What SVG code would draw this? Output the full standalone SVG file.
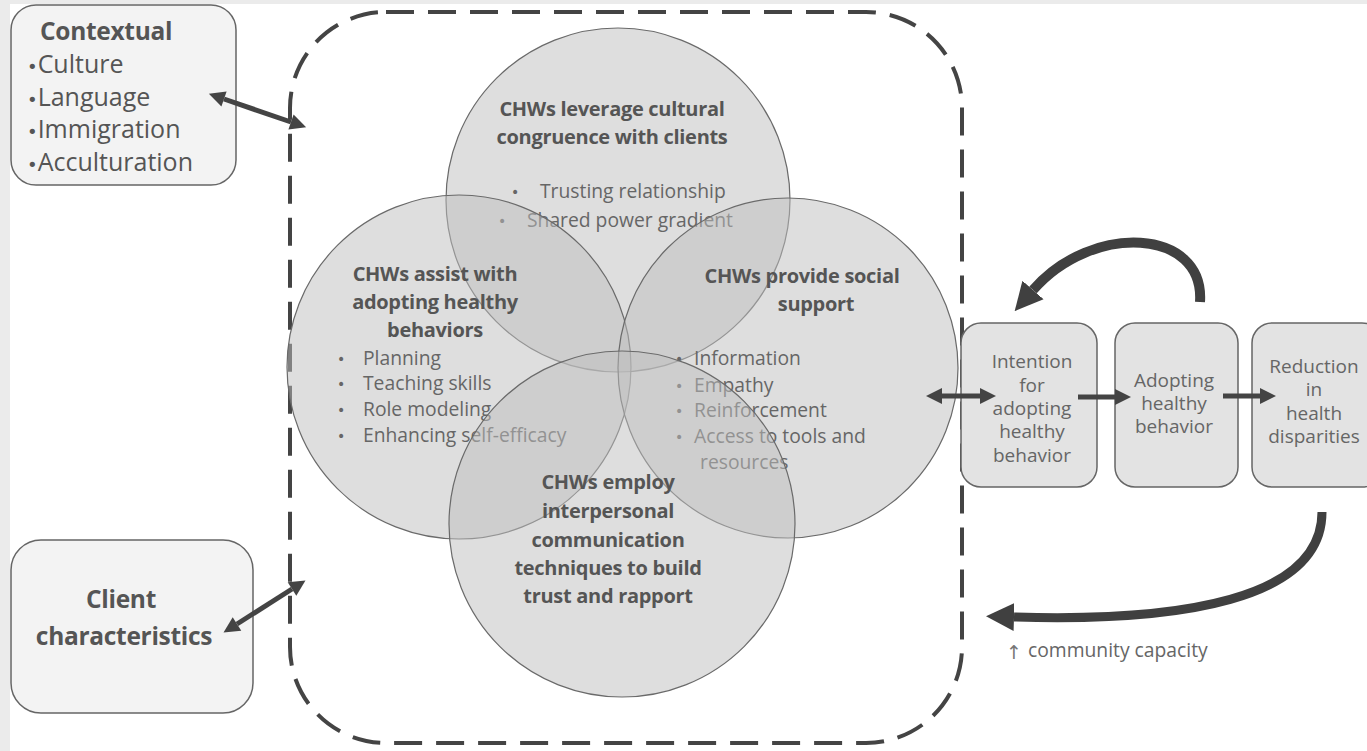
<svg xmlns="http://www.w3.org/2000/svg" width="1367" height="751" viewBox="0 0 1367 751">
<defs>
<style>
.bg{fill:#ffffff}
.strip{fill:#ebebeb}
.box{fill:#f3f3f3;stroke:#666;stroke-width:1.5}
.rbox{fill:#e3e3e3;stroke:#666;stroke-width:1.5}
.circ{fill:#bdbdbd;fill-opacity:0.5;stroke:#6a6a6a;stroke-width:1.2}
.dash{fill:none;stroke:#444;stroke-width:4;stroke-dasharray:28 14}
.h{font-family:"Open Sans","Noto Sans",sans-serif;font-weight:700;font-size:20px;fill:#555;text-anchor:middle;letter-spacing:-0.3px}
.t{font-family:"Open Sans","Noto Sans",sans-serif;font-weight:400;font-size:19.3px;fill:#666}
.b{font-family:"DejaVu Sans",sans-serif;font-size:14px;fill:#666}
.cb{font-family:"DejaVu Sans",sans-serif;font-size:18px}
.ctx{font-family:"Open Sans","Noto Sans",sans-serif;font-size:25px;fill:#555}
.ctxh{font-family:"Open Sans","Noto Sans",sans-serif;font-weight:700;font-size:24.5px;fill:#555;letter-spacing:-0.3px}
.bt{font-family:"Open Sans","Noto Sans",sans-serif;font-size:19px;fill:#666;text-anchor:middle}
.ln{stroke:#444;stroke-width:5;fill:none}
.cv{stroke:#404040;fill:none}
</style>
<marker id="ah" viewBox="0 0 10 10" refX="0" refY="5" markerWidth="18" markerHeight="16" markerUnits="userSpaceOnUse" orient="auto-start-reverse">
<path d="M0,0 L10,5 L0,10 z" fill="#444"/>
</marker>
<marker id="big" viewBox="0 0 10 10" refX="0" refY="5" markerWidth="28" markerHeight="32" markerUnits="userSpaceOnUse" orient="auto">
<path d="M0,0 L10,5 L0,10 z" fill="#404040"/>
</marker>
</defs>
<rect class="bg" x="0" y="0" width="1367" height="751"/>
<rect class="strip" x="0" y="0" width="1367" height="4"/>
<rect class="strip" x="0" y="0" width="10" height="751"/>

<g id="boundary">
<rect class="dash" x="290" y="12" width="672" height="731" rx="96" ry="96"/>
</g>

<g id="circle-cultural">
<circle class="circ" cx="618" cy="200" r="172"/>
<text class="h" x="612" y="116">CHWs leverage cultural</text>
<text class="h" x="612" y="144">congruence with clients</text>
<text class="b" x="511" y="197">•</text>
<text class="t" x="540" y="198">Trusting relationship</text>
<text class="b" x="498" y="226">•</text>
<text class="t" x="527" y="227">Shared power gradient</text>
</g>

<g id="circle-assist">
<circle class="circ" cx="459" cy="367" r="172"/>
<text class="h" x="435" y="281">CHWs assist with</text>
<text class="h" x="435" y="309">adopting healthy</text>
<text class="h" x="435" y="337">behaviors</text>
<text class="b" x="337" y="364">•</text>
<text class="t" x="363" y="365">Planning</text>
<text class="b" x="337" y="389">•</text>
<text class="t" x="363" y="390">Teaching skills</text>
<text class="b" x="337" y="415">•</text>
<text class="t" x="363" y="416">Role modeling</text>
<text class="b" x="337" y="441">•</text>
<text class="t" x="363" y="442">Enhancing self-efficacy</text>
</g>

<g id="circle-support">
<circle class="circ" cx="788" cy="368" r="170"/>
<text class="h" x="802" y="283">CHWs provide social</text>
<text class="h" x="816" y="311">support</text>
<text class="b" x="675" y="364">•</text>
<text class="t" x="694" y="365">Information</text>
<text class="b" x="675" y="391">•</text>
<text class="t" x="694" y="392">Empathy</text>
<text class="b" x="675" y="416">•</text>
<text class="t" x="694" y="417">Reinforcement</text>
<text class="b" x="675" y="442">•</text>
<text class="t" x="694" y="443">Access to tools and</text>
<text class="t" x="700" y="469">resources</text>
</g>

<g id="circle-employ">
<circle class="circ" cx="622" cy="524" r="173"/>
<text class="h" x="608" y="489">CHWs employ</text>
<text class="h" x="608" y="518">interpersonal</text>
<text class="h" x="608" y="547">communication</text>
<text class="h" x="608" y="575">techniques to build</text>
<text class="h" x="608" y="603">trust and rapport</text>
</g>

<g id="contextual">
<rect class="box" x="11" y="5" width="225" height="180" rx="25" ry="25"/>
<text class="ctxh" x="40" y="40">Contextual</text>
<text class="ctx" x="27" y="73"><tspan class="cb">•</tspan>Culture</text>
<text class="ctx" x="27" y="106"><tspan class="cb">•</tspan>Language</text>
<text class="ctx" x="27" y="138"><tspan class="cb">•</tspan>Immigration</text>
<text class="ctx" x="27" y="171"><tspan class="cb">•</tspan>Acculturation</text>
</g>

<g id="client">
<rect class="box" x="11" y="540" width="242" height="173" rx="30" ry="30"/>
<text class="ctxh" x="121" y="608" text-anchor="middle">Client</text>
<text class="ctxh" x="124" y="645" text-anchor="middle">characteristics</text>
</g>

<g id="intention">
<rect class="rbox" x="961" y="323" width="136" height="164" rx="20" ry="20"/>
<text class="bt" x="1032" y="368">Intention</text>
<text class="bt" x="1032" y="392">for</text>
<text class="bt" x="1032" y="415">adopting</text>
<text class="bt" x="1032" y="438">healthy</text>
<text class="bt" x="1032" y="462">behavior</text>
</g>

<g id="adopting">
<rect class="rbox" x="1115" y="323" width="123" height="164" rx="20" ry="20"/>
<text class="bt" x="1174" y="387">Adopting</text>
<text class="bt" x="1174" y="410">healthy</text>
<text class="bt" x="1174" y="433">behavior</text>
</g>

<g id="reduction">
<rect class="rbox" x="1252" y="323" width="130" height="164" rx="20" ry="20"/>
<text class="bt" x="1314" y="373">Reduction</text>
<text class="bt" x="1314" y="396">in</text>
<text class="bt" x="1314" y="420">health</text>
<text class="bt" x="1314" y="443">disparities</text>
</g>

<g id="label-capacity">
<text x="1006" y="659" font-family="DejaVu Sans, sans-serif" font-size="19" fill="#777">↑</text>
<text class="t" x="1028" y="657">community capacity</text>
</g>

<g id="connectors">
<line class="ln" x1="224" y1="99" x2="291" y2="122" marker-start="url(#ah)" marker-end="url(#ah)"/>
<line class="ln" x1="237" y1="624" x2="292" y2="589" marker-start="url(#ah)" marker-end="url(#ah)"/>
<line class="ln" x1="942" y1="396" x2="980" y2="396" marker-start="url(#ah)" marker-end="url(#ah)"/>
<line class="ln" x1="1078" y1="397" x2="1115" y2="397" marker-end="url(#ah)"/>
<line class="ln" x1="1223" y1="396" x2="1260" y2="396" marker-end="url(#ah)"/>
<path class="cv" stroke-width="10" d="M1200,302 C1205,228 1092,222 1033,290" marker-end="url(#big)"/>
<path class="cv" stroke-width="9" d="M1322,512 C1322,600 1180,622 1014,617" marker-end="url(#big)"/>
</g>
</svg>
